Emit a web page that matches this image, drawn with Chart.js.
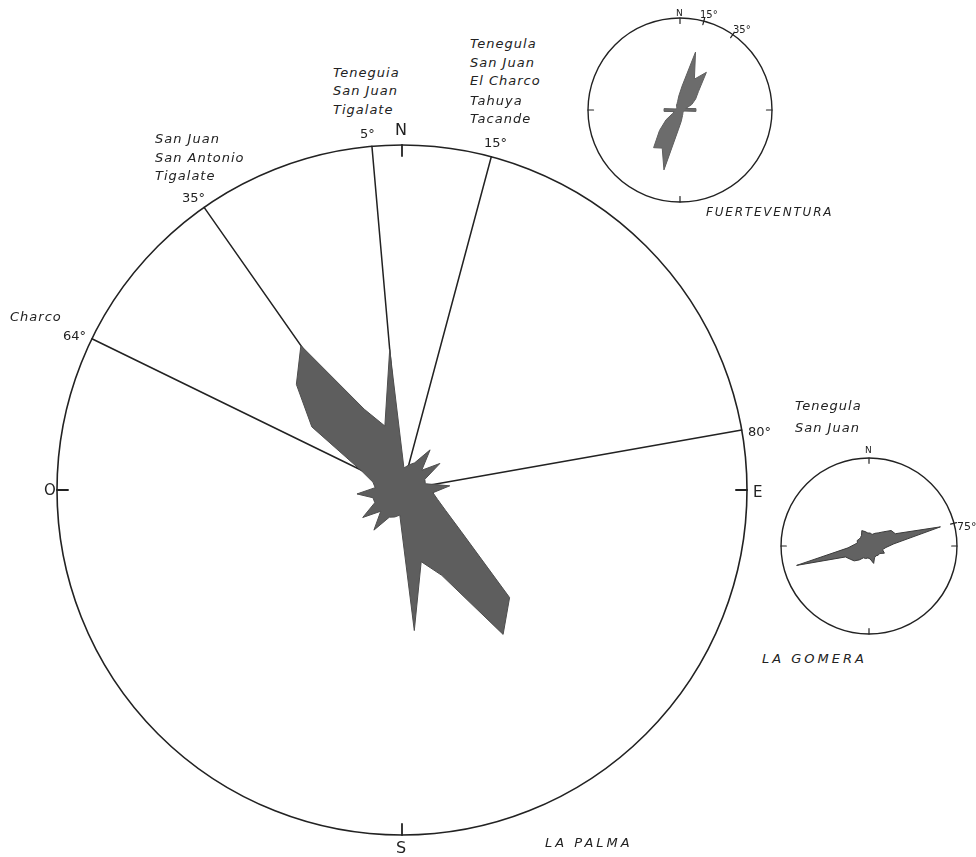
<!DOCTYPE html>
<html>
<head>
<meta charset="utf-8">
<script src="https://cdn.jsdelivr.net/npm/chart.js@4/dist/chart.umd.min.js"></script>
<style>
  body { margin: 0; background: #fff; }
  #page { position: relative; width: 976px; height: 857px; overflow: hidden;
          font-family: "DejaVu Sans", sans-serif; color: #222; }
  canvas { position: absolute; }
  .lbl { position: absolute; white-space: nowrap; line-height: 1; transform: translateY(-50%); }
  .it { font-style: italic; letter-spacing: 1px; }
</style>
</head>
<body>
<div id="page">
  <canvas id="palma" width="700" height="700" style="left:52px;top:140px"></canvas>
  <canvas id="fuerte" width="200" height="200" style="left:580px;top:10px"></canvas>
  <canvas id="gomera" width="190" height="190" style="left:774px;top:451px"></canvas>
</div>
<script>
// 10 degree classes, centred on 5, 15, ... 355 (bidirectional data)
var binCentres = [5, 15, 25, 35, 45, 55, 65, 75, 85, 95, 105, 115, 125, 135, 145, 155, 165, 175,
                  185, 195, 205, 215, 225, 235, 245, 255, 265, 275, 285, 295, 305, 315, 325, 335, 345, 355];

// frequency per class, in % of the outer circle
var palmaFreq = [6.4, 7.5, 8.7, 14.2, 8.1, 13.4, 7.3, 7.0, 13.9, 9.0, 10.7, 13.9, 20.9, 44.1, 51.1, 27.3, 21.5, 40.9,
                 7.3, 8.1, 8.7, 14.2, 8.7, 13.9, 8.7, 8.7, 13.1, 7.8, 8.7, 12.8, 31.9, 43.3, 51.1, 25.8, 19.2, 40.9];
var fuerteFreq = [26.1, 65.2, 37.0, 50.0, 28.3, 20.7, 14.1, 6.5, 17.4, 17.4, 4.3, 4.3, 4.3, 4.3, 5.4, 6.5, 8.7, 13.0,
                  21.7, 67.4, 45.7, 50.0, 31.5, 18.5, 8.7, 6.5, 17.4, 17.4, 4.3, 4.3, 4.3, 5.4, 6.5, 7.6, 9.8, 15.2];
var gomeraFreq = [14.8, 13.6, 15.9, 18.2, 22.7, 30.7, 33.0, 84.1, 28.4, 19.3, 15.9, 19.3, 14.8, 14.8, 13.6, 14.8, 20.5, 14.8,
                  13.6, 14.8, 14.8, 19.3, 23.9, 26.1, 29.5, 85.2, 23.9, 17.0, 13.6, 14.8, 13.6, 13.6, 14.8, 19.3, 17.0, 14.8];

// alignment directions of the vent groups (degrees from N)
var palmaAlign = [355, 15, 325, 296, 80];
var cardinal = [0, 90, 180, 270];
var fuerteMarks = [15, 35];
var gomeraMarks = [75];

var labels = [
  ['Teneguia', 333, 72, 13, 'it'], ['San Juan', 333, 90, 13, 'it'], ['Tigalate', 333, 109, 13, 'it'],
  ['5°', 360, 133, 13, ''], ['N', 395, 130, 16, ''],
  ['Tenegula', 470, 43, 13, 'it'], ['San Juan', 470, 62, 13, 'it'], ['El Charco', 470, 80, 13, 'it'],
  ['Tahuya', 470, 100, 13, 'it'], ['Tacande', 470, 118, 13, 'it'], ['15°', 484, 142, 13, ''],
  ['San Juan', 155, 138, 13, 'it'], ['San Antonio', 155, 157, 13, 'it'], ['Tigalate', 155, 175, 13, 'it'],
  ['35°', 182, 197, 13, ''], ['Charco', 10, 316, 13, 'it'], ['64°', 63, 335, 13, ''],
  ['80°', 748, 431, 13, ''], ['O', 44, 490, 15, ''], ['E', 753, 492, 15, ''], ['S', 396, 848, 16, ''],
  ['LA  PALMA', 545, 842, 13, 'it wide'],
  ['Tenegula', 795, 405, 13, 'it'], ['San Juan', 795, 427, 13, 'it'],
  ['N', 676, 13, 9, ''], ['15°', 700, 15, 10, ''], ['35°', 733, 30, 10, ''],
  ['FUERTEVENTURA', 706, 212, 12, 'it caps'],
  ['N', 865, 450, 9, ''], ['75°', 957, 526, 11, ''], ['LA GOMERA', 762, 658, 13, 'it wide']
];

var page = document.getElementById('page');
labels.forEach(function (l) {
  var d = document.createElement('div');
  d.className = 'lbl ' + l[4];
  d.textContent = l[0];
  d.style.left = l[1] + 'px';
  d.style.top = l[2] + 'px';
  d.style.fontSize = l[3] + 'px';
  if (l[4].indexOf('wide') >= 0) d.style.letterSpacing = '3px';
  if (l[4].indexOf('caps') >= 0) d.style.letterSpacing = '1.8px';
  page.appendChild(d);
});

// straight marks from the centre (alignments) and on the rim (ticks)
var rays = {
  id: 'rays',
  beforeDatasetsDraw(chart, args, opts) {
    var s = chart.scales.r;
    var ctx = chart.ctx;
    ctx.save();
    ctx.strokeStyle = '#222';
    ctx.lineCap = 'round';
    opts.lines.forEach(function (l) {
      var a = (l.deg - 90) * Math.PI / 180;
      var r0 = s.getDistanceFromCenterForValue(l.from);
      var r1 = s.getDistanceFromCenterForValue(l.to);
      ctx.lineWidth = l.width;
      ctx.beginPath();
      ctx.moveTo(s.xCenter + Math.cos(a) * r0, s.yCenter + Math.sin(a) * r0);
      ctx.lineTo(s.xCenter + Math.cos(a) * r1, s.yCenter + Math.sin(a) * r1);
      ctx.stroke();
    });
    ctx.restore();
  }
};

function draw(id, freq, lines, maxValue, rimWidth, fillColor, edgeColor) {
  new Chart(document.getElementById(id), {
    type: 'radar',
    data: {
      labels: binCentres.map(function (b) { return b + '°'; }),
      datasets: [{
        data: freq,
        fill: true,
        backgroundColor: fillColor,
        borderColor: edgeColor,
        borderWidth: 1,
        pointRadius: 0,
        pointHoverRadius: 0,
        tension: 0
      }]
    },
    options: {
      responsive: false,
      animation: false,
      events: [],
      plugins: { legend: { display: false }, tooltip: { enabled: false }, rays: { lines: lines } },
      scales: {
        r: {
          min: 0,
          max: maxValue,
          startAngle: binCentres[0],
          afterBuildTicks: function (s) { s.ticks = [{ value: 0 }, { value: 100 }]; },
          ticks: { display: false },
          grid: { circular: true, color: '#222', lineWidth: rimWidth },
          angleLines: { display: false },
          pointLabels: { display: false }
        }
      }
    },
    plugins: [rays]
  });
}

var palmaLines = palmaAlign.map(function (d) { return { deg: d, from: 0, to: 100, width: 1.5 }; })
  .concat(cardinal.map(function (d) { return { deg: d, from: 96.8, to: 100, width: 1.8 }; }));
var fuerteLines = cardinal.map(function (d) { return { deg: d, from: 94, to: 100, width: 1.2 }; })
  .concat(fuerteMarks.map(function (d) { return { deg: d, from: 96, to: 103, width: 1.2 }; }));
var gomeraLines = cardinal.map(function (d) { return { deg: d, from: 94, to: 100, width: 1.2 }; })
  .concat(gomeraMarks.map(function (d) { return { deg: d, from: 96, to: 103, width: 1.2 }; }));

draw('palma', palmaFreq, palmaLines, 101.45, 1.6, '#5e5e5e', '#4d4d4d');
draw('fuerte', fuerteFreq, fuerteLines, 108.7, 1.4, '#6c6c6c', '#5e5e5e');
draw('gomera', gomeraFreq, gomeraLines, 108, 1.4, '#626262', '#3a3a3a');
</script>
</body>
</html>
